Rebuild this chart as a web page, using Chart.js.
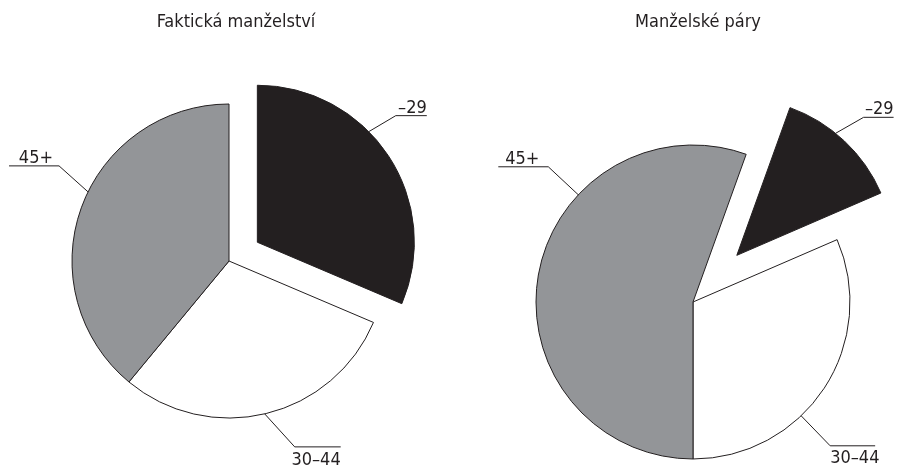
<!DOCTYPE html>
<html>
<head>
<meta charset="utf-8">
<script src="https://cdn.jsdelivr.net/npm/chart.js@4.4.0/dist/chart.umd.min.js"></script>
<style>
  html, body { margin: 0; padding: 0; background: #fff; }
  #wrap { position: relative; width: 899px; height: 475px; }
  #wrap canvas { position: absolute; left: 0; top: 0; }
</style>
</head>
<body>
<div id="wrap">
  <canvas id="left" width="899" height="475"></canvas>
  <canvas id="right" width="899" height="475"></canvas>
</div>
<script>
'use strict';

// age groups, clockwise from the start angle of each pie
const AGE_GROUPS = ['–29', '30–44', '45+'];
const FAKTICKA = [31.4, 29.6, 39.0];   // Faktická manželství, %
const MANZELSKE = [13.0, 31.5, 55.5];  // Manželské páry, %
const TITLES = ['Faktická manželství', 'Manželské páry'];

const COLORS = ['#231f20', '#ffffff', '#939598'];
const INK = '#231f20';
const FONT = "'DejaVu Sans Condensed', 'Liberation Sans Narrow', sans-serif";

/**
 * Pulls one slice away from the centre along its bisector.
 */
const explodePlugin = {
  id: 'explode',
  afterDatasetsUpdate(chart, args, opts) {
    const el = chart.getDatasetMeta(0).data[opts.index];
    if (!el) return;
    const mid = (el.startAngle + el.endAngle) / 2;
    el.x += Math.cos(mid) * opts.distance;
    el.y += Math.sin(mid) * opts.distance;
  }
};

/**
 * Leader lines with the category names, anchored on the slice edges.
 */
const leaderPlugin = {
  id: 'leaders',
  afterDatasetsDraw(chart, args, opts) {
    const ctx = chart.ctx;
    const meta = chart.getDatasetMeta(0);
    ctx.save();
    ctx.strokeStyle = INK;
    ctx.fillStyle = INK;
    ctx.lineWidth = 1;
    ctx.font = '18px ' + FONT;
    for (let lab of opts.items) {
      const el = meta.data[lab.index];
      const a = el.startAngle + lab.at * (el.endAngle - el.startAngle);
      const ax = el.x + el.outerRadius * Math.cos(a);
      const ay = el.y + el.outerRadius * Math.sin(a);
      const ex = ax + lab.dx;
      const ey = ay + lab.dy;
      ctx.beginPath();
      ctx.moveTo(ax, ay);
      ctx.lineTo(ex, ey);
      ctx.lineTo(ex + lab.len, ey);
      ctx.stroke();
      ctx.textAlign = lab.align;
      ctx.textBaseline = lab.below ? 'top' : 'alphabetic';
      ctx.fillText(chart.data.labels[lab.index], ex + lab.tx, lab.below ? ey + 4 : ey - 3);
    }
    ctx.restore();
  }
};

const headingPlugin = {
  id: 'heading',
  afterDraw(chart, args, opts) {
    const ctx = chart.ctx;
    ctx.save();
    ctx.fillStyle = INK;
    ctx.font = '18px ' + FONT;
    ctx.textAlign = 'center';
    ctx.textBaseline = 'alphabetic';
    ctx.fillText(opts.text, opts.x, opts.y);
    ctx.restore();
  }
};

function makePie(canvasId, values, rotation, padding, explode, leaders, heading) {
  return new Chart(document.getElementById(canvasId), {
    type: 'pie',
    data: {
      labels: AGE_GROUPS,
      datasets: [{
        data: values,
        backgroundColor: COLORS,
        borderColor: INK,
        borderWidth: 1
      }]
    },
    options: {
      responsive: false,
      animation: false,
      events: [],
      rotation: rotation,
      radius: 157,
      layout: { padding: padding },
      plugins: {
        legend: { display: false },
        tooltip: { enabled: false },
        explode: explode,
        leaders: leaders,
        heading: heading
      }
    },
    plugins: [explodePlugin, leaderPlugin, headingPlugin]
  });
}

makePie('left', FAKTICKA, 0,
  { left: 0, right: 441, top: 47, bottom: 0 },
  { index: 0, distance: 34 },
  { items: [
    { index: 0, at: 0.40, dx: 27, dy: -16, len: 31, tx: 31, align: 'right' },
    { index: 2, at: 0.545, dx: -29, dy: -26, len: -50, tx: -6, align: 'right' },
    { index: 1, at: 0.505, dx: 30, dy: 33, len: 46, tx: 46, align: 'right', below: true }
  ] },
  { text: TITLES[0], x: 236, y: 27 });

makePie('right', MANZELSKE, 19.8,
  { left: 487, right: 0, top: 129, bottom: 0 },
  { index: 0, distance: 64 },
  { items: [
    { index: 0, at: 0.41, dx: 28, dy: -16, len: 30, tx: 30, align: 'right' },
    { index: 2, at: 0.666, dx: -30, dy: -28, len: -50, tx: -9, align: 'right' },
    { index: 1, at: 0.616, dx: 29, dy: 30, len: 45, tx: 0, align: 'left', below: true }
  ] },
  { text: TITLES[1], x: 698, y: 27 });
</script>
</body>
</html>
